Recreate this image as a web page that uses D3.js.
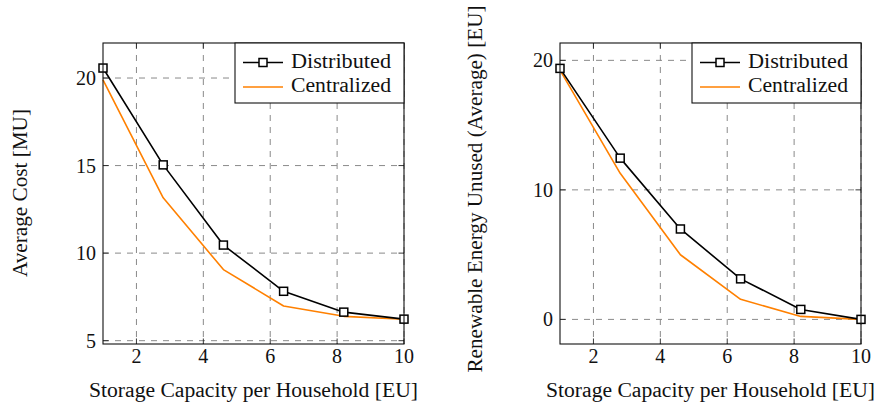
<!DOCTYPE html>
<html>
<head>
<meta charset="utf-8">
<script src="https://cdn.jsdelivr.net/npm/d3@7"></script>
<style>
  body { margin: 0; background: #fff; }
</style>
</head>
<body>
<div id="plot"></div>
<script>
// storage capacity per household (x values, shared by both panels)
const capacity = [1, 2.8, 4.6, 6.4, 8.2, 10];

// left panel: average cost [MU]
const costDistributed = [20.57, 15.04, 10.46, 7.82, 6.63, 6.23];
const costCentralized = [19.9, 13.16, 9.06, 6.98, 6.39, 6.22];

// right panel: renewable energy unused (average) [EU]
const unusedDistributed = [19.38, 12.45, 6.98, 3.13, 0.77, 0];
const unusedCentralized = [19.25, 11.28, 4.99, 1.55, 0.23, 0];

const xTicks = [2, 4, 6, 8, 10];
const costTicks = [5, 10, 15, 20];
const unusedTicks = [0, 10, 20];

const seriesNames = ['Distributed', 'Centralized'];
const xLabel = 'Storage Capacity per Household [EU]';

const FONT = "'Liberation Serif'";
const W = 879, H = 405;
const svg = d3.select('#plot')
    .append('svg')
    .attr('width', W)
    .attr('height', H)
    .style('display', 'block');

function drawPanel(opts) {
    const {left, top, size, yDomain, yTicks, yLabel, yLabelX, yLabelY, yLabelLen, dist, cent} = opts;
    const g = svg.append('g');

    const x = d3.scaleLinear().domain([1, 10]).range([left, left + size]);
    const y = d3.scaleLinear().domain(yDomain).range([top + size, top]);

    // dashed grid
    g.selectAll('.vgrid')
        .data(xTicks)
        .enter()
        .append('line')
        .attr('x1', d => x(d))
        .attr('x2', d => x(d))
        .attr('y1', top)
        .attr('y2', top + size)
        .attr('stroke', '#8a8a8a')
        .attr('stroke-width', 1)
        .attr('stroke-dasharray', '6,6');

    g.selectAll('.hgrid')
        .data(yTicks)
        .enter()
        .append('line')
        .attr('x1', left)
        .attr('x2', left + size)
        .attr('y1', d => y(d))
        .attr('y2', d => y(d))
        .attr('stroke', '#8a8a8a')
        .attr('stroke-width', 1)
        .attr('stroke-dasharray', '6,6');

    // inward tick marks on all four sides
    const tl = 5.5;
    xTicks.forEach(t => {
        g.append('line').attr('x1', x(t)).attr('x2', x(t)).attr('y1', top + size).attr('y2', top + size - tl)
            .attr('stroke', '#222').attr('stroke-width', 0.9);
        g.append('line').attr('x1', x(t)).attr('x2', x(t)).attr('y1', top).attr('y2', top + tl)
            .attr('stroke', '#222').attr('stroke-width', 0.9);
    });
    yTicks.forEach(t => {
        g.append('line').attr('x1', left).attr('x2', left + tl).attr('y1', y(t)).attr('y2', y(t))
            .attr('stroke', '#222').attr('stroke-width', 0.9);
        g.append('line').attr('x1', left + size).attr('x2', left + size - tl).attr('y1', y(t)).attr('y2', y(t))
            .attr('stroke', '#222').attr('stroke-width', 0.9);
    });

    // tick labels
    g.selectAll('.xtick')
        .data(xTicks)
        .enter()
        .append('text')
        .attr('x', d => x(d))
        .attr('y', top + size + 19)
        .attr('text-anchor', 'middle')
        .style('font-family', FONT)
        .attr('font-size', 20)
        .attr('fill', '#111')
        .text(d => d);

    g.selectAll('.ytick')
        .data(yTicks)
        .enter()
        .append('text')
        .attr('x', left - 7)
        .attr('y', d => y(d) + 7)
        .attr('text-anchor', 'end')
        .style('font-family', FONT)
        .attr('font-size', 20)
        .attr('fill', '#111')
        .text(d => d);

    // series
    const line = d3.line()
        .x((d, i) => x(capacity[i]))
        .y(d => y(d));

    g.append('path')
        .datum(cent)
        .attr('d', line)
        .attr('fill', 'none')
        .attr('stroke', '#ff8000')
        .attr('stroke-width', 1.6)
        .attr('stroke-linejoin', 'round');

    g.append('path')
        .datum(dist)
        .attr('d', line)
        .attr('fill', 'none')
        .attr('stroke', '#000')
        .attr('stroke-width', 1.6)
        .attr('stroke-linejoin', 'round');

    g.selectAll('.marker')
        .data(dist)
        .enter()
        .append('rect')
        .attr('x', (d, i) => x(capacity[i]) - 4)
        .attr('y', d => y(d) - 4)
        .attr('width', 8)
        .attr('height', 8)
        .attr('fill', '#fff')
        .attr('stroke', '#000')
        .attr('stroke-width', 1.5);

    // frame
    g.append('rect')
        .attr('x', left)
        .attr('y', top)
        .attr('width', size)
        .attr('height', size)
        .attr('fill', 'none')
        .attr('stroke', '#111')
        .attr('stroke-width', 1.1);

    // legend (north east)
    const lw = 169, lh = 60;
    const lx = left + size - lw, ly = top;
    g.append('rect')
        .attr('x', lx)
        .attr('y', ly)
        .attr('width', lw)
        .attr('height', lh)
        .attr('fill', '#fff')
        .attr('stroke', '#111')
        .attr('stroke-width', 1.1);

    const rows = [19.5, 44];
    seriesNames.forEach((name, i) => {
        const ry = ly + rows[i];
        g.append('line')
            .attr('x1', lx + 8)
            .attr('x2', lx + 48)
            .attr('y1', ry)
            .attr('y2', ry)
            .attr('stroke', i === 0 ? '#000' : '#ff8000')
            .attr('stroke-width', 1.6);
        if (i === 0) {
            g.append('rect')
                .attr('x', lx + 28 - 4)
                .attr('y', ry - 4)
                .attr('width', 8)
                .attr('height', 8)
                .attr('fill', '#fff')
                .attr('stroke', '#000')
                .attr('stroke-width', 1.5);
        }
        g.append('text')
            .attr('x', lx + 56)
            .attr('y', ry + 5)
            .style('font-family', FONT)
            .attr('font-size', 20)
            .attr('fill', '#111')
            .attr('textLength', 100)
            .attr('lengthAdjust', 'spacingAndGlyphs')
            .text(name);
    });

    // axis labels
    g.append('text')
        .attr('x', left + size / 2)
        .attr('y', 397)
        .attr('text-anchor', 'middle')
        .style('font-family', FONT)
        .attr('font-size', 20)
        .attr('fill', '#111')
        .attr('textLength', 329)
        .attr('lengthAdjust', 'spacingAndGlyphs')
        .text(xLabel);

    g.append('text')
        .attr('transform', `translate(${yLabelX},${yLabelY}) rotate(-90)`)
        .attr('text-anchor', 'middle')
        .style('font-family', FONT)
        .attr('font-size', 20)
        .attr('fill', '#111')
        .attr('textLength', yLabelLen)
        .attr('lengthAdjust', 'spacingAndGlyphs')
        .text(yLabel);
}

drawPanel({
    left: 103, top: 43, size: 301,
    yDomain: [4.81, 22.0],
    yTicks: costTicks,
    yLabel: 'Average Cost [MU]',
    yLabelX: 27, yLabelY: 193, yLabelLen: 168,
    dist: costDistributed,
    cent: costCentralized
});

drawPanel({
    left: 560, top: 43, size: 301,
    yDomain: [-1.9, 21.34],
    yTicks: unusedTicks,
    yLabel: 'Renewable Energy Unused (Average) [EU]',
    yLabelX: 482, yLabelY: 189, yLabelLen: 367,
    dist: unusedDistributed,
    cent: unusedCentralized
});
</script>
</body>
</html>
